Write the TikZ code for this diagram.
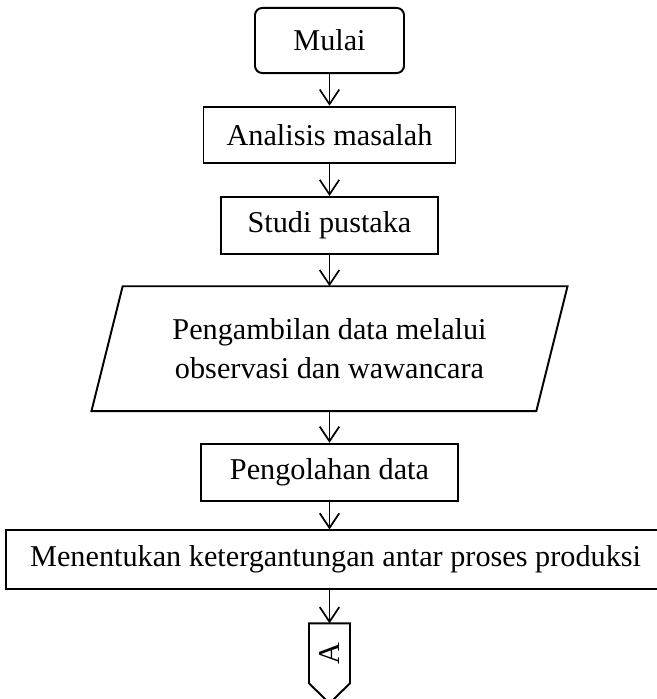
\documentclass[tikz,border=0pt]{standalone}
\usepackage{fontspec}
\setmainfont{Liberation Serif}
\usetikzlibrary{positioning,arrows.meta}

\begin{document}
\begin{tikzpicture}[
  x=0.41pt, y=0.41pt,
  node distance=13pt,
  every node/.style={font=\fontsize{12.4}{15.6}\selectfont},
  box/.style={rectangle, draw, line width=0.8pt, align=center, inner sep=2pt, minimum height=23.2pt},
  arrow/.style={-{Straight Barb[length=6pt,width=8pt]}, line width=0.7pt}
]

\useasboundingbox (-329.5,40.5) rectangle (326.5,-658.5);

% Nodes
\node[box, rounded corners=3pt, minimum width=61.1pt, minimum height=26.7pt] (mulai) {Mulai};
\node[box, below=of mulai, minimum width=103.3pt] (analisis) {Analisis masalah};
\node[box, below=of analisis, minimum width=89pt] (studi) {Studi pustaka};
\node[below=of studi, minimum width=182pt, minimum height=50.8pt, align=center] (data) {Pengambilan data melalui\\observasi dan wawancara};
\node[box, below=of data, minimum width=105pt, minimum height=23.6pt] (olah) {Pengolahan data};
\node[box, below=11.1pt of olah, xshift=2.5pt, minimum width=270pt, minimum height=24pt] (tentukan) {Menentukan ketergantungan antar proses produksi};
\node[below=13.7pt of tentukan, xshift=-2.5pt, minimum width=16.4pt, minimum height=24.2pt, inner sep=0pt] (konA) {\rotatebox{90}{A}};

% Parallelogram and off-page connector
\draw[line width=0.8pt] ([xshift=6.4pt]data.north west) -- ([xshift=6.4pt]data.north east)
  -- ([xshift=-6.4pt]data.south east) -- ([xshift=-6.4pt]data.south west) -- cycle;
\draw[line width=0.8pt] (konA.north west) -- (konA.north east) -- (konA.south east)
  -- ([yshift=-8.2pt]konA.south) -- (konA.south west) -- cycle;

% Arrows
\draw[arrow] (mulai) -- (analisis);
\draw[arrow] (analisis) -- (studi);
\draw[arrow] (studi) -- (data);
\draw[arrow] (data) -- (olah);
\draw[arrow] (olah) -- (olah |- tentukan.north);
\draw[arrow] (tentukan.south -| konA) -- (konA);

\end{tikzpicture}
\end{document}
